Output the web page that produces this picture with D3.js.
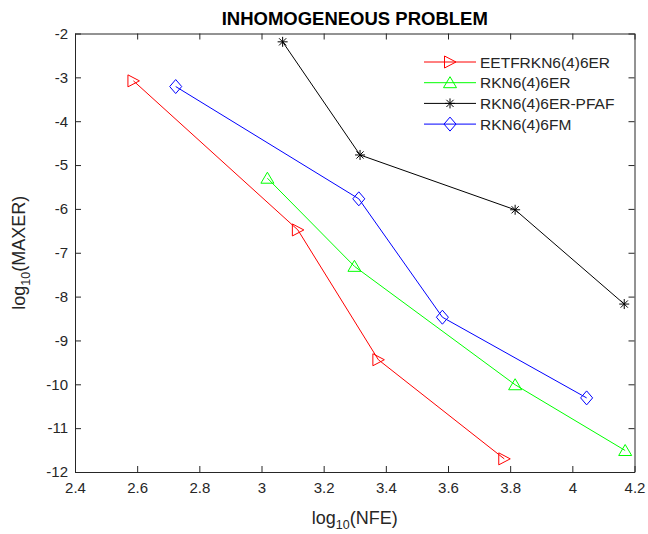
<!DOCTYPE html>
<html>
<head>
<meta charset="utf-8">
<script src="https://cdn.jsdelivr.net/npm/d3@7"></script>
<style>
  body { margin: 0; background: #fff; }
  svg text { font-family: "Liberation Sans", Arial, Helvetica, sans-serif; fill: #262626; }
</style>
</head>
<body>
<svg id="chart"></svg>
<script>
const width = 648;
const height = 534;

// data (log10 NFE, log10 MAXER)
const seriesNames = ["EETFRKN6(4)6ER", "RKN6(4)6ER", "RKN6(4)6ER-PFAF", "RKN6(4)6FM"];
const nfeEETF = [2.588, 3.117, 3.376, 3.781];
const errEETF = [-3.08, -6.48, -9.44, -11.70];
const nfeRKN = [3.019, 3.299, 3.816, 4.170];
const errRKN = [-5.30, -7.31, -10.01, -11.51];
const nfePFAF = [3.068, 3.317, 3.816, 4.167];
const errPFAF = [-2.19, -4.77, -6.02, -8.17];
const nfeFM = [2.724, 3.313, 3.582, 4.046];
const errFM = [-3.21, -5.77, -8.47, -10.31];
const xTicks = [2.4, 2.6, 2.8, 3, 3.2, 3.4, 3.6, 3.8, 4, 4.2];
const yTicks = [-2, -3, -4, -5, -6, -7, -8, -9, -10, -11, -12];

const series = [
  { name: seriesNames[0], x: nfeEETF, y: errEETF, color: "#ff0000", marker: "tri-right" },
  { name: seriesNames[1], x: nfeRKN, y: errRKN, color: "#00ff00", marker: "tri-up" },
  { name: seriesNames[2], x: nfePFAF, y: errPFAF, color: "#000000", marker: "star" },
  { name: seriesNames[3], x: nfeFM, y: errFM, color: "#0000ff", marker: "diamond" }
];

const margin = { top: 33.5, right: 13.5, bottom: 62, left: 75 };
const innerW = width - margin.left - margin.right;
const innerH = height - margin.top - margin.bottom;

const svg = d3.select("#chart")
  .attr("width", width)
  .attr("height", height);

const g = svg.append("g")
  .attr("transform", `translate(${margin.left},${margin.top})`);

const x = d3.scaleLinear().domain([2.4, 4.2]).range([0, innerW]);
const y = d3.scaleLinear().domain([-12, -2]).range([innerH, 0]);

const fmt = d => String(d);

function styleAxis(sel) {
  sel.selectAll("path.domain").attr("stroke", "#262626").attr("stroke-width", 1);
  sel.selectAll(".tick line").attr("stroke", "#262626");
  sel.selectAll("text").attr("font-size", 15).attr("fill", "#262626");
}

g.append("g")
  .attr("transform", `translate(0,${innerH})`)
  .call(d3.axisBottom(x).tickValues(xTicks).tickFormat(fmt).tickSizeInner(-6).tickSizeOuter(0).tickPadding(10))
  .call(styleAxis);
g.append("g")
  .call(d3.axisTop(x).tickValues(xTicks).tickFormat("").tickSizeInner(-6).tickSizeOuter(0))
  .call(styleAxis);
g.append("g")
  .call(d3.axisLeft(y).tickValues(yTicks).tickFormat(fmt).tickSizeInner(-6).tickSizeOuter(0).tickPadding(7))
  .call(styleAxis);
g.append("g")
  .attr("transform", `translate(${innerW},0)`)
  .call(d3.axisRight(y).tickValues(yTicks).tickFormat("").tickSizeInner(-6).tickSizeOuter(0))
  .call(styleAxis);
svg.selectAll(".domain").attr("fill", "none");

// markers
function markerPath(type) {
  if (type === "tri-right") return "M-5.5,-6L6,0L-5.5,6Z";
  if (type === "tri-up") return "M-6.5,5L0,-6L6.5,5Z";
  if (type === "diamond") return "M0,-7L6,0L0,7L-6,0Z";
  return "M-5,0L5,0M0,-5L0,5M-3.6,-3.6L3.6,3.6M-3.6,3.6L3.6,-3.6";
}

const line = d3.line().x(d => x(d[0])).y(d => y(d[1]));

series.forEach(s => {
  const pts = s.x.map((v, i) => [v, s.y[i]]);
  g.append("path")
    .datum(pts)
    .attr("fill", "none")
    .attr("stroke", s.color)
    .attr("stroke-width", 1)
    .attr("d", line);
  g.selectAll(null)
    .data(pts)
    .enter()
    .append("path")
    .attr("transform", d => `translate(${x(d[0])},${y(d[1])})`)
    .attr("d", markerPath(s.marker))
    .attr("fill", "none")
    .attr("stroke", s.color)
    .attr("stroke-width", 1);
});

// legend
const legend = svg.append("g").attr("transform", "translate(424,62)");
series.forEach((s, i) => {
  const row = legend.append("g").attr("transform", `translate(0,${i * 20.7})`);
  row.append("line")
    .attr("x1", 0).attr("x2", 52)
    .attr("stroke", s.color).attr("stroke-width", 1);
  row.append("path")
    .attr("transform", "translate(26,0)")
    .attr("d", markerPath(s.marker))
    .attr("fill", "none")
    .attr("stroke", s.color);
  row.append("text")
    .attr("x", 56)
    .attr("dy", "0.36em")
    .attr("font-size", 15.5)
    .text(s.name);
});

// title
svg.append("text")
  .attr("x", margin.left + innerW / 2)
  .attr("y", 25)
  .attr("text-anchor", "middle")
  .attr("font-size", 18.5)
  .attr("font-weight", "bold")
  .style("fill", "#000")
  .text("INHOMOGENEOUS PROBLEM");

// axis labels
const xl = svg.append("text")
  .attr("x", margin.left + innerW / 2)
  .attr("y", 524)
  .attr("text-anchor", "middle")
  .attr("font-size", 18);
xl.append("tspan").text("log");
xl.append("tspan").attr("dy", 5).attr("font-size", 12.5).text("10");
xl.append("tspan").attr("dy", -5).text("(NFE)");

const yl = svg.append("text")
  .attr("transform", `translate(25,${margin.top + innerH / 2}) rotate(-90)`)
  .attr("text-anchor", "middle")
  .attr("font-size", 18);
yl.append("tspan").text("log");
yl.append("tspan").attr("dy", 5).attr("font-size", 12.5).text("10");
yl.append("tspan").attr("dy", -5).text("(MAXER)");
</script>
</body>
</html>
